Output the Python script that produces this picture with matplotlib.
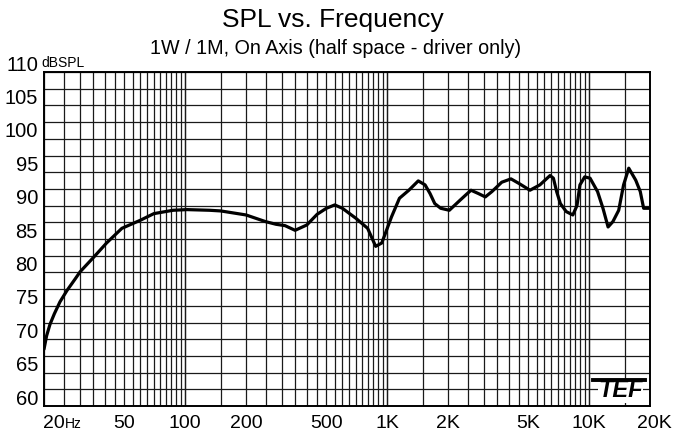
import numpy as np
import matplotlib.pyplot as plt
from matplotlib.transforms import blended_transform_factory, ScaledTranslation

plt.rcParams['font.family'] = ['Liberation Sans', 'DejaVu Sans']

# frequency response (Hz, dB SPL)
freq = [20, 20.6, 21.4, 22.5, 24.0, 26.0, 28.5, 30.2, 35.3, 40.8, 48.6, 59.9, 70, 87,
        102, 132, 150, 200, 250, 282, 312, 350, 400, 450, 500, 550, 600, 700, 800,
        877, 940, 1050, 1150, 1280, 1425, 1540, 1630, 1720, 1840, 2030, 2293, 2450,
        2600, 2830, 3060, 3300, 3690, 4100, 4500, 5090, 5700, 6400, 6650, 6900, 7200,
        7700, 8300, 8700, 9000, 9500, 10100, 11000, 11700, 12400, 13100, 14000,
        14800, 15700, 17000, 17900, 18600, 20000]
spl = [68.5, 70.5, 72.2, 73.8, 75.6, 77.3, 79.0, 80.1, 82.3, 84.4, 86.6, 87.8, 88.8,
       89.3, 89.4, 89.3, 89.2, 88.6, 87.6, 87.2, 87.0, 86.3, 87.1, 88.7, 89.6, 90.1,
       89.6, 88.1, 86.6, 83.9, 84.4, 88.3, 91.1, 92.3, 93.7, 93.1, 91.8, 90.3, 89.6,
       89.3, 90.8, 91.6, 92.3, 91.8, 91.3, 92.1, 93.5, 94.0, 93.3, 92.3, 93.1, 94.5,
       94.1, 92.1, 90.3, 89.1, 88.6, 90.0, 93.1, 94.3, 94.1, 92.1, 89.6, 86.8, 87.6,
       89.3, 93.1, 95.6, 93.8, 92.1, 89.6, 89.6]

y_ticks = [60, 65, 70, 75, 80, 85, 90, 95, 100, 105, 110]
x_ticks = [20, 50, 100, 200, 500, 1000, 2000, 5000, 10000, 20000]
x_labels = ['20', '50', '100', '200', '500', '1K', '2K', '5K', '10K', '20K']

# grid: steps of half the decade start
grid_x = []
for dec in [10, 100, 1000, 10000]:
    for m in np.arange(1, 10.01, 0.5):
        f = m * dec
        if 20 <= f <= 20000:
            grid_x.append(f)
grid_y = np.arange(60, 110.1, 2.5)

fig = plt.figure(figsize=(6.78, 4.37), dpi=100)
ax = fig.add_axes([44/678, 1-406/437, 606/678, 334/437])
ax.set_xscale('log')
ax.set_xlim(20, 20000)
ax.set_ylim(60, 110)

for f in grid_x:
    ax.axvline(f, color='#1a1a1a', lw=0.9, zorder=1)
for v in grid_y:
    ax.axhline(v, color='#1a1a1a', lw=0.9, zorder=1)

ax.plot(freq, spl, color='black', lw=2.3, solid_capstyle='round',
        solid_joinstyle='round', zorder=3)

for s in ax.spines.values():
    s.set_linewidth(1.4)
ax.set_xticks([])
ax.set_yticks([])
ax.minorticks_off()

# y labels sit a little above their lines
ytr = blended_transform_factory(ax.transAxes, ax.transData) + ScaledTranslation(0, 7/100, fig.dpi_scale_trans)
for v in y_ticks:
    ax.text(-0.01, v, str(v), transform=ytr, ha='right', va='center', fontsize=14.5)
ax.text(-0.004, 110.3, 'dBSPL', transform=ytr, ha='left', va='center', fontsize=10)

xtr = blended_transform_factory(ax.transData, ax.transAxes)
base_y = -0.066
for f, lab in zip(x_ticks, x_labels):
    if f == 20:
        ax.text(19.8, base_y, lab, transform=xtr, ha='left', va='baseline', fontsize=14)
        hz_tr = xtr + ScaledTranslation(21/100, 0, fig.dpi_scale_trans)
        ax.text(20, base_y, 'Hz', transform=hz_tr, ha='left', va='baseline', fontsize=10)
    elif f == 20000:
        ax.text(f, base_y, lab, transform=xtr + ScaledTranslation(4/100, 0, fig.dpi_scale_trans),
                ha='center', va='baseline', fontsize=14)
    else:
        ax.text(f, base_y, lab, transform=xtr, ha='center', va='baseline', fontsize=14)

fig.text(333/678, 1-20/437, 'SPL vs. Frequency', ha='center', va='center', fontsize=19)
fig.text(336/678, 1-48/437, '1W / 1M, On Axis (half space - driver only)', ha='center',
         va='center', fontsize=14.2)

# TEF logo
ax.text(0.951, 0.045, 'TEF', transform=ax.transAxes, ha='center', va='center',
        fontsize=17, fontweight='bold', fontstyle='italic', zorder=4,
        bbox=dict(facecolor='white', edgecolor='none', pad=0.3))
ax.plot([0.906, 0.992], [0.078, 0.078], transform=ax.transAxes, color='black', lw=2.8,
        zorder=5)

plt.savefig('out.png', dpi=100)
